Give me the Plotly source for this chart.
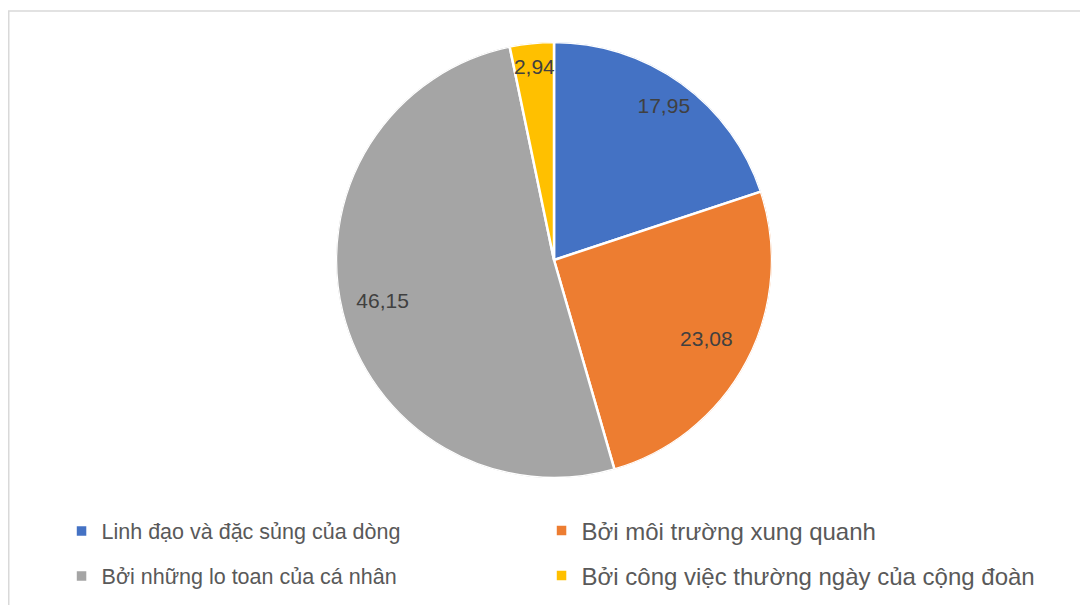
import numpy as np
import plotly.graph_objects as go

labels = [
    "Linh đạo và đặc sủng của dòng",
    "Bởi môi trường xung quanh",
    "Bởi những lo toan của cá nhân",
    "Bởi công việc thường ngày của cộng đoàn",
]
values = [17.95, 23.08, 46.15, 2.94]
colors = ["#4472C4", "#ED7D31", "#A5A5A5", "#FFC000"]

# vị trí nhãn theo bán kính (tỉ lệ), giống kiểu "best fit" của Excel
label_radius = [0.86, 0.79, 0.81, 0.88]
# mỗi mục chú giải là một legend riêng: (x, y, cỡ chữ)
legend_pos = [(0.0457, -0.1216, 21.5), (0.4885, -0.1216, 24),
              (0.0457, -0.2248, 21.5), (0.4885, -0.2248, 24)]

vals = np.asarray(values, dtype=float)
spans = vals / vals.sum() * 360.0
mids = np.cumsum(spans) - spans / 2

fig = go.Figure()
for i, lab in enumerate(labels):
    fig.add_trace(go.Barpolar(
        r=[1.0], theta=[mids[i]], width=[spans[i]],
        name=lab,
        marker=dict(color=colors[i], line=dict(color="white", width=2.5)),
        legend="legend" if i == 0 else f"legend{i + 1}",
        hovertemplate=f"{lab}: {values[i]:.2f}<extra></extra>".replace(".", ","),
    ))

fig.add_trace(go.Scatterpolar(
    r=label_radius, theta=mids, mode="text",
    text=[f"{v:.2f}".replace(".", ",") for v in values],
    textfont=dict(family="Liberation Sans, Arial, sans-serif", size=21, color="#404040"),
    showlegend=False, hoverinfo="skip",
))

legends = {}
for i, (lx, ly, fs) in enumerate(legend_pos):
    key = "legend" if i == 0 else f"legend{i + 1}"
    legends[key] = dict(
        orientation="h", xanchor="left", yanchor="middle", x=lx, y=ly,
        font=dict(family="Liberation Sans, Arial, sans-serif", size=fs, color="#595959"),
        itemwidth=30, bgcolor="rgba(0,0,0,0)",
    )

fig.update_layout(
    width=1088, height=605,
    paper_bgcolor="white",
    margin=dict(l=4, r=0, t=34, b=135, autoexpand=False),
    polar=dict(
        domain=dict(x=[0, 1], y=[0, 1]),
        bgcolor="rgba(0,0,0,0)",
        radialaxis=dict(range=[0, 1], visible=False),
        angularaxis=dict(rotation=90, direction="clockwise", visible=False),
    ),
    showlegend=True,
    shapes=[dict(
        type="rect", xref="paper", yref="paper",
        x0=-0.003, x1=1.02, y0=-0.4, y1=1.071,
        line=dict(color="#D9D9D9", width=1.5),
        fillcolor="rgba(0,0,0,0)", layer="below",
    )],
    **legends,
)

fig.write_html("out.html")
